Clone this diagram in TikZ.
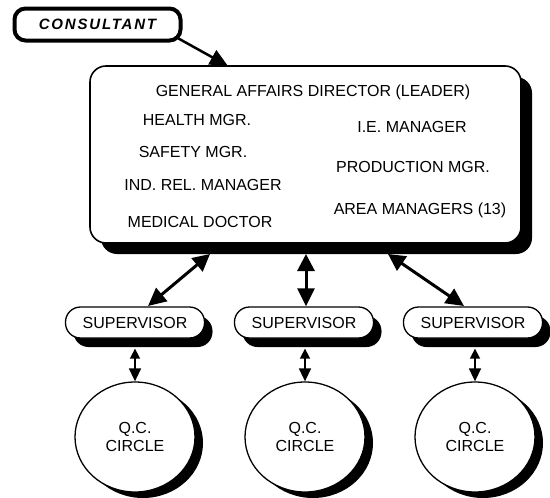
\documentclass[tikz,border=0pt]{standalone}
\usepackage{fontspec}
\setmainfont{Liberation Sans}
\newfontfamily\consfont[LetterSpace=12]{Liberation Sans}
\usetikzlibrary{arrows.meta,shapes.geometric,shadows}
\begin{document}
\begin{tikzpicture}[x=1pt,y=-1pt,
  txt/.style={font=\fontsize{16}{19}\selectfont, inner sep=0pt},
  mainbox/.style={draw, line width=1.6pt, rounded corners=16pt, fill=white,
    minimum width=431pt, minimum height=177pt,
    drop shadow={shadow xshift=11pt,shadow yshift=-11pt,fill=black,opacity=1}},
  supbox/.style={draw, line width=1.3pt, rounded corners=15pt, fill=white,
    minimum width=139pt, minimum height=31pt, inner sep=0pt,
    font=\fontsize{16}{19}\selectfont,
    drop shadow={shadow xshift=8pt,shadow yshift=-9pt,fill=black,opacity=1}},
  qccirc/.style={ellipse, draw, line width=1.3pt, fill=white,
    minimum width=120pt, minimum height=110pt, inner sep=0pt, align=center,
    font=\fontsize{16}{18}\selectfont,
    drop shadow={shadow xshift=8pt,shadow yshift=-6pt,fill=black,opacity=1}},
  consbox/.style={draw, line width=4pt, rounded corners=11pt, fill=white,
    minimum width=166pt, minimum height=32pt, inner sep=0pt,
    font=\consfont\fontsize{15}{17}\selectfont\bfseries\itshape},
  bigarrow/.style={line width=3pt, {Triangle[length=17pt,width=17pt]}-{Triangle[length=18pt,width=17pt]}},
  smallarrow/.style={line width=1.6pt, {Triangle[length=10pt,width=10pt]}-{Triangle[length=13pt,width=12pt]}},
  consarrow/.style={line width=2.5pt, -{Triangle[length=18pt,width=16pt]}}
]
\useasboundingbox (0,0) rectangle (550,498);

% consultant
\node[consbox] (cons) at (97.5,24.5) {CONSULTANT};

% main box
\node[mainbox] (main) at (305.5,154.5) {};
\node[txt] (gad) at (313,92) {GENERAL AFFAIRS DIRECTOR (LEADER)};
\node[txt] (hm) at (197,120) {HEALTH MGR.};
\node[txt] (sm) at (193,152) {SAFETY MGR.};
\node[txt] (irm) at (203,185) {IND. REL. MANAGER};
\node[txt] (md) at (200,222) {MEDICAL DOCTOR};
\node[txt] (iem) at (412,127) {I.E. MANAGER};
\node[txt] (pm) at (413,167) {PRODUCTION MGR.};
\node[txt] (am) at (420,210) {AREA MANAGERS (13)};

% supervisors
\node[supbox] (s1) at (135,322.5) {SUPERVISOR};
\node[supbox] (s2) at (304,322.5) {SUPERVISOR};
\node[supbox] (s3) at (473,322.5) {SUPERVISOR};

% circles
\node[qccirc] (c1) at (135,437) {Q.C.\\CIRCLE};
\node[qccirc] (c2) at (305,437) {Q.C.\\CIRCLE};
\node[qccirc] (c3) at (475,437) {Q.C.\\CIRCLE};

% connectors
\coordinate (ctip) at (228,66);
\draw[consarrow] ([xshift=-4pt,yshift=4pt]cons.south east) -- (ctip);

\coordinate (m1) at (210,254);
\coordinate (m2) at (306,254);
\coordinate (m3) at (388,254);
\coordinate (t1) at (148,306);
\coordinate (t3) at (464,306);
\draw[bigarrow] (m1) -- (t1);
\draw[bigarrow] (m2) -- (m2 |- s2.north);
\draw[bigarrow] (m3) -- (t3);

\draw[smallarrow] ([yshift=-10pt]s1.south) -- (c1.north);
\draw[smallarrow] ([yshift=-10pt]s2.south -| c2.north) -- (c2.north);
\draw[smallarrow] ([yshift=-10pt]s3.south -| c3.north) -- (c3.north);
\end{tikzpicture}
\end{document}
